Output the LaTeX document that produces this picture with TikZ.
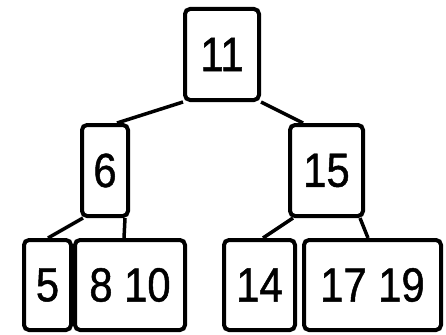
\documentclass[tikz,border=0pt]{standalone}
\usepackage{fontspec}
\usetikzlibrary{calc}
\newfontfamily\digfont[FakeStretch=0.87,FakeBold=1]{Liberation Sans}
\begin{document}
\begin{tikzpicture}[x=1pt,y=-1pt,
  key/.style={draw, line width=4pt, rounded corners=5pt, inner sep=0pt,
    font=\digfont\fontsize{48}{48}\selectfont},
  edge/.style={line width=3.5pt}]
\useasboundingbox[fill=white] (0,0) rectangle (446,334);
\node[key, minimum width=74pt, minimum height=91pt] (n11) at (222,54.5) {11};
\node[key, minimum width=46pt, minimum height=91pt] (n6) at (105,170.5) {6};
\node[key, minimum width=73pt, minimum height=91pt] (n15) at (326.5,170.5) {15};
\node[key, minimum width=47pt, minimum height=90pt] (n5) at (47.5,285) {5};
\node[key, minimum width=110pt, minimum height=90pt] (n810) at (130,285) {8 10};
\node[key, minimum width=71pt, minimum height=90pt] (n14) at (259.5,285) {14};
\node[key, minimum width=137pt, minimum height=90pt] (n1719) at (372.5,285) {17 19};
\draw[edge] (n11.south west) -- ($(n6.north west)+(37,0)$);
\draw[edge] (n11.south east) -- ($(n15.north west)+(15,0)$);
\draw[edge] ($(n6.south west)+(3,0)$) -- ($(n5.north west)+(26,0)$);
\draw[edge] ($(n6.south east)+(-5,0)$) -- ($(n810.north west)+(51,0)$);
\draw[edge] ($(n15.south west)+(5,0)$) -- ($(n14.north west)+(41,0)$);
\draw[edge] ($(n15.south east)+(-5,0)$) -- ($(n1719.north west)+(66,0)$);
\end{tikzpicture}
\end{document}
